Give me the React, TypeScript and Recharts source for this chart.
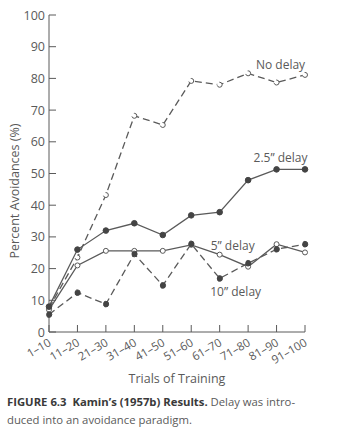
import React from 'react';
import { LineChart, Line, XAxis, YAxis, ReferenceDot } from 'recharts';

const trials = ['1–10', '11–20', '21–30', '31–40', '41–50', '51–60', '61–70', '71–80', '81–90', '91–100'];
const noDelay = [7.5, 23.5, 43.2, 68.2, 65.3, 79.2, 78.0, 81.6, 78.7, 81.1];
const delay25 = [8, 26, 32, 34.3, 30.6, 36.8, 37.8, 47.9, 51.3, 51.3];
const delay5 = [7, 21, 25.6, 25.6, 25.6, 27.5, 24.4, 20.6, 27.7, 25.1];
const delay10 = [5.5, 12.4, 8.8, 24.6, 14.7, 27.8, 16.9, 21.7, 26.1, 27.7];
const yTicks = [0, 10, 20, 30, 40, 50, 60, 70, 80, 90, 100];

const data = trials.map((t, i) => ({
  trial: t,
  noDelay: noDelay[i],
  delay25: delay25[i],
  delay5: delay5[i],
  delay10: delay10[i],
}));

const ink = '#5a5a5a';
const font = '"Open Sans", sans-serif';

const YTick = ({ x, y, payload }: any) => (
  <g>
    <line x1={x} y1={y} x2={x + 7} y2={y} stroke={ink} strokeWidth={1} />
    <text x={x - 4} y={y} textAnchor="end" dominantBaseline="central" fill={ink} fontSize={12.5} fontFamily={font}>
      {payload.value}
    </text>
  </g>
);

const XTick = ({ x, y, payload }: any) => (
  <g>
    <line x1={x} y1={y} x2={x} y2={y - 7} stroke={ink} strokeWidth={1} />
    <text
      x={x + 3}
      y={y + 13}
      textAnchor="end"
      fill={ink}
      fontSize={11.5}
      fontFamily={font}
      transform={`rotate(-30, ${x + 3}, ${y + 13})`}
    >
      {payload.value}
    </text>
  </g>
);

const note = (text: string, dx: number) => (props: any) => {
  const vb = props.viewBox || {};
  const cx = (vb.x || 0) + (vb.width || 0) / 2 + dx;
  const cy = (vb.y || 0) + (vb.height || 0) / 2;
  return (
    <text x={cx} y={cy} textAnchor="middle" dominantBaseline="central" fill={ink} fontSize={12} fontFamily={font}>
      {text}
    </text>
  );
};

const openDot = { r: 2.5, fill: '#fff', stroke: ink, strokeWidth: 1 };
const fullDot = { r: 2.8, fill: '#444', stroke: '#444', strokeWidth: 1 };

export default function App() {
  return (
    <div style={{ position: 'absolute', left: 0, top: 0, width: 348, height: 439, background: '#fff' }}>
      <LineChart width={348} height={439} data={data} margin={{ top: 15, right: 43, left: 0, bottom: 77 }}>
        <XAxis
          dataKey="trial"
          height={30}
          tickSize={0}
          tickMargin={0}
          tickLine={false}
          interval={0}
          axisLine={{ stroke: ink }}
          tick={<XTick />}
          label={{
            content: (p: any) => (
              <text
                x={p.viewBox.x + p.viewBox.width / 2}
                y={p.viewBox.y + 46}
                textAnchor="middle"
                dominantBaseline="central"
                fill={ink}
                fontSize={12.5}
                fontFamily={font}
              >
                Trials of Training
              </text>
            ),
          }}
        />
        <YAxis
          width={49}
          domain={[0, 100]}
          ticks={yTicks}
          tickSize={0}
          tickMargin={0}
          tickLine={false}
          axisLine={{ stroke: ink }}
          tick={<YTick />}
          label={{
            content: () => (
              <text
                x={14}
                y={191}
                transform="rotate(-90, 14, 191)"
                textAnchor="middle"
                dominantBaseline="central"
                fill={ink}
                fontSize={12.5}
                fontFamily={font}
              >
                Percent Avoidances (%)
              </text>
            ),
          }}
        />
        <Line dataKey="noDelay" stroke={ink} strokeWidth={1.3} strokeDasharray="7 4" dot={openDot} isAnimationActive={false} />
        <Line dataKey="delay5" stroke={ink} strokeWidth={1.3} dot={openDot} isAnimationActive={false} />
        <Line dataKey="delay25" stroke={ink} strokeWidth={1.3} dot={fullDot} isAnimationActive={false} />
        <Line dataKey="delay10" stroke={ink} strokeWidth={1.3} strokeDasharray="7 4" dot={fullDot} isAnimationActive={false} />
        <ReferenceDot x="81–90" y={84.5} r={0} fill="none" stroke="none" label={{ content: note('No delay', 4) }} />
        <ReferenceDot x="81–90" y={55} r={0} fill="none" stroke="none" label={{ content: note('2.5” delay', 4) }} />
        <ReferenceDot x="61–70" y={27.4} r={0} fill="none" stroke="none" label={{ content: note('5” delay', 13) }} />
        <ReferenceDot x="61–70" y={12.9} r={0} fill="none" stroke="none" label={{ content: note('10” delay', 16) }} />
      </LineChart>
      <div style={{ position: 'absolute', left: 7, top: 393, fontFamily: font, fontSize: 11.3, color: ink, whiteSpace: 'nowrap', lineHeight: '18px' }}>
        <div>
          <b style={{ color: '#3a3a3a' }}>FIGURE 6.3&nbsp; Kamin’s (1957b) Results.</b> Delay was intro-
        </div>
        <div>duced into an avoidance paradigm.</div>
      </div>
    </div>
  );
}
